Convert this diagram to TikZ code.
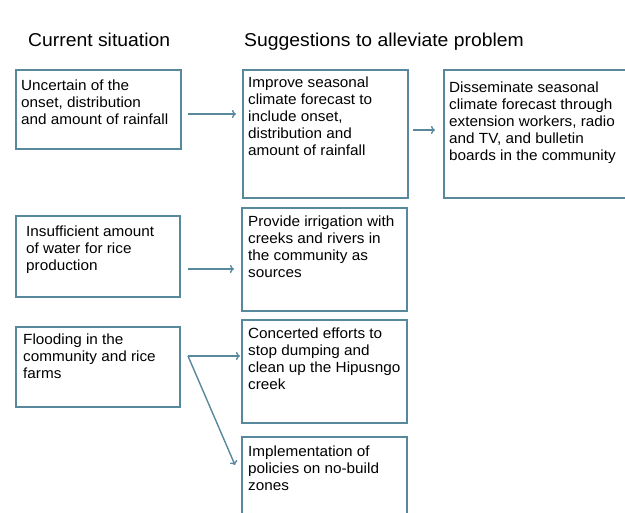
\documentclass[tikz,border=0pt]{standalone}
\usepackage{fontspec}
\setmainfont{Liberation Sans}[FakeStretch=1.04]
\usetikzlibrary{arrows.meta}
\definecolor{bc}{RGB}{88,136,156}
\tikzset{
  box/.style={draw=bc, line width=2pt, inner sep=0pt, anchor=north west},
  txt/.style={anchor=north west, inner sep=0pt, align=left, font=\fontsize{14.7}{16.9}\selectfont, text=black},
  head/.style={anchor=base west, inner sep=0pt, font=\fontsize{18.6}{22}\selectfont, text=black},
  arr/.style={draw=bc, line width=1.4pt, -{To[length=4pt,width=8pt]}}
}
\begin{document}
\begin{tikzpicture}[x=1pt,y=-1pt]
\useasboundingbox (0,0) rectangle (625,513);
\fill[white] (0,0) rectangle (625,513);
% headings
\node[head] (h1) at (28,47) {Current situation};
\node[head] (h2) at (244,47) {Suggestions to alleviate problem};
% boxes
\node[box, minimum width=165pt, minimum height=79pt] (A1) at (15,69) {};
\node[box, minimum width=165pt, minimum height=128pt] (B1) at (242,69) {};
\node[box, minimum width=200pt, minimum height=128pt] (C1) at (443,69) {};
\node[box, minimum width=164pt, minimum height=81pt] (A2) at (15,215) {};
\node[box, minimum width=165pt, minimum height=103pt] (B2) at (241,207) {};
\node[box, minimum width=164pt, minimum height=80pt] (A3) at (15,326) {};
\node[box, minimum width=165pt, minimum height=103pt] (B3) at (241,319) {};
\node[box, minimum width=165pt, minimum height=100pt] (B4) at (241,436) {};
% texts
\node[txt] (tA1) at (21,80) {Uncertain of the\\onset, distribution\\and amount of rainfall};
\node[txt] (tB1) at (248,77) {Improve seasonal\\climate forecast to\\include onset,\\distribution and\\amount of rainfall};
\node[txt] (tC1) at (449,82) {Disseminate seasonal\\climate forecast through\\extension workers, radio\\and TV, and bulletin\\boards in the community};
\node[txt] (tA2) at (26,226) {Insufficient amount\\of water for rice\\production};
\node[txt] (tB2) at (248,216) {Provide irrigation with\\creeks and rivers in\\the community as\\sources};
\node[txt] (tA3) at (23,334) {Flooding in the\\community and rice\\farms};
\node[txt] (tB3) at (248,328) {Concerted efforts to\\stop dumping and\\clean up the Hipusngo\\creek};
\node[txt] (tB4) at (248,446) {Implementation of\\policies on no-build\\zones};
% connectors
\coordinate (s1) at ([shift={(6,4.5)}]A1.east);
\coordinate (e1) at (s1 -| B1.west);
\draw[arr, shorten >=6pt] (s1) -- (e1);
\coordinate (s2) at ([shift={(4,-4)}]B1.east);
\coordinate (e2) at (s2 -| C1.west);
\draw[arr, shorten >=8pt] (s2) -- (e2);
\coordinate (s3) at ([shift={(7,12.5)}]A2.east);
\coordinate (e3) at (s3 -| B2.west);
\draw[arr, shorten >=7pt] (s3) -- (e3);
\coordinate (s4) at ([shift={(7,-11)}]A3.east);
\coordinate (e4) at (s4 -| B3.west);
\draw[arr, shorten >=1pt] (s4) -- (e4);
\coordinate (e5) at ([shift={(-6,29)}]B4.north west);
\draw[arr] (s4) -- (e5);
\end{tikzpicture}
\end{document}
